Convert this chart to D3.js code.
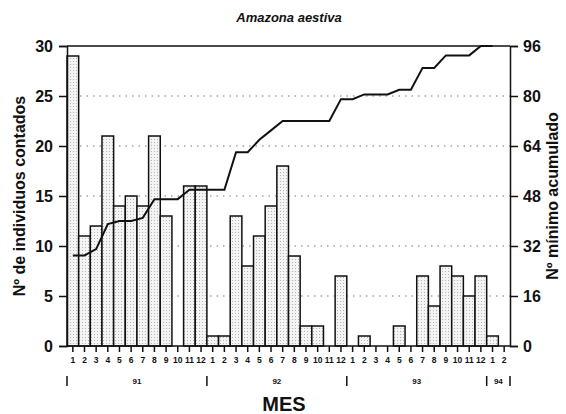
<!DOCTYPE html>
<html><head><meta charset="utf-8">
<script src="https://cdn.jsdelivr.net/npm/d3@7/dist/d3.min.js"></script>
<style>body{margin:0;background:#fff}svg{display:block}text{font-family:"Liberation Sans",Arial,sans-serif;font-weight:bold;fill:#111}</style>
</head><body><svg id="c" width="566" height="414"></svg>
<script>
const title = "Amazona aestiva";
const monthLabels = ["1","2","3","4","5","6","7","8","9","10","11","12",
  "1","2","3","4","5","6","7","8","9","10","11","12",
  "1","2","3","4","5","6","7","8","9","10","11","12",
  "1","2"];
const yearLabels = ["91","92","93","94"];
const yearStart = [0,12,24,36];
const yearLen = [12,12,12,2];
const counts = [29,11,12,21,14,15,14,21,13,0,16,16,
  1,1,13,8,11,14,18,9,2,2,0,7,
  0,1,0,0,2,0,7,4,8,7,5,7,
  1,0];
const cumulative = [29,29,31,39,40,40,41,47,47,47,50,50,
  50,50,62,62,66,69,72,72,72,72,72,79,
  79,80.5,80.5,80.5,82,82,89,89,93,93,93,96,
  96];
const leftTicks = [0,5,10,15,20,25,30];
const rightTicks = [0,16,32,48,64,80,96];

const svg = d3.select("#c");
const L = 67, R = 510, T = 46, B = 346;
const idx = d3.range(monthLabels.length);
const x = d3.scaleBand().domain(idx).range([L, R]).padding(0);
const yL = d3.scaleLinear().domain([0,30]).range([B, T]);
const yR = d3.scaleLinear().domain([0,96]).range([B, T]);

const defs = svg.append("defs");
const pat = defs.append("pattern").attr("id","dots").attr("width",3).attr("height",3).attr("patternUnits","userSpaceOnUse");
pat.append("rect").attr("width",3).attr("height",3).attr("fill","#f4f4f4");
pat.append("rect").attr("x",1).attr("y",1).attr("width",1).attr("height",1).attr("fill","#b4b4b4");

// gridlines
svg.append("g").selectAll("line").data(leftTicks.filter(d=>d>0 && d<30)).join("line")
  .attr("x1",L).attr("x2",R).attr("y1",d=>yL(d)).attr("y2",d=>yL(d))
  .attr("stroke","#777").attr("stroke-width",1.2).attr("stroke-dasharray","1.5,5");
// top line
svg.append("line").attr("x1",L).attr("x2",R).attr("y1",yL(30)).attr("y2",yL(30)).attr("stroke","#111").attr("stroke-width",1.5);

// bars
svg.append("g").selectAll("rect").data(idx.filter(i=>counts[i]>0)).join("rect")
  .attr("x",i=>x(i)).attr("width",x.bandwidth())
  .attr("y",i=>yL(counts[i])).attr("height",i=>B-yL(counts[i]))
  .attr("fill","url(#dots)").attr("stroke","#111").attr("stroke-width",1.5);

// cumulative line
const line = d3.line().x((d,i)=>x(i)+x.bandwidth()/2).y(d=>yR(d));
svg.append("path").datum(cumulative).attr("d",line).attr("fill","none").attr("stroke","#111").attr("stroke-width",2);

// left axis
const gl = svg.append("g").attr("transform",`translate(${L},0)`)
  .call(d3.axisLeft(yL).tickValues(leftTicks).tickSize(8).tickPadding(6));
gl.selectAll("text").style("font-size","16px").style("font-weight","bold").attr("fill","#111");
gl.selectAll("line,path").attr("stroke","#111").attr("stroke-width",1.5);

// right axis
const gr = svg.append("g").attr("transform",`translate(${R},0)`)
  .call(d3.axisRight(yR).tickValues(rightTicks).tickSize(8).tickPadding(5));
gr.selectAll("text").style("font-size","16px").style("font-weight","bold").attr("fill","#111");
gr.selectAll("line,path").attr("stroke","#111").attr("stroke-width",1.5);

// bottom axis
const gb = svg.append("g").attr("transform",`translate(0,${B})`)
  .call(d3.axisBottom(x).tickValues(idx).tickFormat(i=>monthLabels[i]).tickSize(6).tickPadding(5));
gb.selectAll("text").style("font-size","8.5px").style("font-weight","bold").attr("fill","#111");
gb.selectAll("line,path").attr("stroke","#111").attr("stroke-width",1.5);
gb.select(".domain").attr("d",`M${L},0H${R}`);

// year row
const yy = 381;
const seps = [0,12,24,36];
svg.append("g").selectAll("line").data(seps).join("line")
  .attr("x1",i=>x(i)).attr("x2",i=>x(i)).attr("y1",yy-5).attr("y2",yy+5)
  .attr("stroke","#111").attr("stroke-width",1.5);
svg.append("line").attr("x1",R).attr("x2",R).attr("y1",yy-5).attr("y2",yy+5).attr("stroke","#111").attr("stroke-width",1.5);
svg.append("g").selectAll("text").data(yearLabels).join("text")
  .attr("x",(d,i)=>x(yearStart[i]) + yearLen[i]*x.step()/2)
  .attr("y",yy+3).attr("text-anchor","middle").style("font-size","8px").text(d=>d);

// titles
svg.append("text").attr("x",289).attr("y",22).attr("text-anchor","middle")
  .style("font-size","13px").style("font-style","italic").text(title);
svg.append("text").attr("x",284).attr("y",411).attr("text-anchor","middle")
  .style("font-size","20px").text("MES");
svg.append("text").attr("transform","translate(25,196) rotate(-90)").attr("text-anchor","middle")
  .style("font-size","16px").text("Nº de individuos contados");
svg.append("text").attr("transform","translate(558,196) rotate(-90)").attr("text-anchor","middle")
  .style("font-size","16px").text("Nº mínimo acumulado");
</script></body></html>
